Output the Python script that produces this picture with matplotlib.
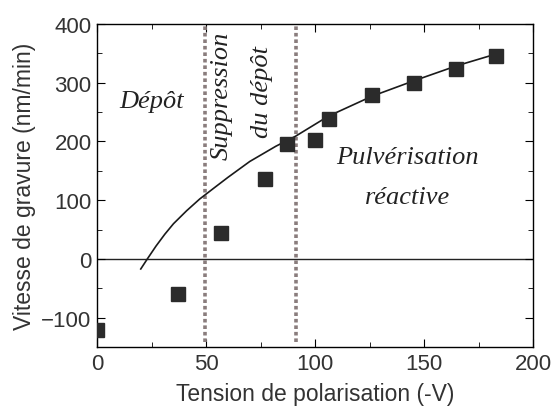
import matplotlib
matplotlib.use("Agg")
import matplotlib.pyplot as plt
from matplotlib.ticker import MultipleLocator

# measured points
tension = [0, 37, 57, 77, 87, 100, 106.5, 126, 145.5, 164.5, 183]
vitesse = [-121, -60, 44, 137, 196, 203, 238, 279, 300, 323, 346]

# fitted curve
fit_x = [20, 23, 27, 31, 35, 41, 47, 54, 60, 70, 82, 91, 106, 126, 145, 165, 183]
fit_y = [-17, 0, 22, 42, 60, 82, 102, 122, 139, 166, 192, 209, 243, 277, 303, 329, 349]

# region limits
limites = [49.5, 91]

plt.rcParams['font.family'] = ['Liberation Sans', 'DejaVu Sans']
fig = plt.figure(figsize=(5.52, 4.10), dpi=100)
ax = fig.add_axes([0.176, 0.151, 0.79, 0.788])

ax.axhline(0, color='#222222', lw=1.0, zorder=1)
for xl in limites:
    ax.plot([xl, xl], [-142, 400], color='#8a7d7d', lw=2.6, ls=(0, (1, 0.8)), zorder=2)
ax.plot(fit_x, fit_y, color='#1a1a1a', lw=1.2, zorder=3)
ax.plot(tension, vitesse, 's', color='#2b2b2b', ms=9.5, zorder=4)

ax.set_xlim(0, 200)
ax.set_ylim(-150, 400)
ax.xaxis.set_major_locator(MultipleLocator(50))
ax.xaxis.set_minor_locator(MultipleLocator(25))
ax.yaxis.set_major_locator(MultipleLocator(100))
ax.yaxis.set_minor_locator(MultipleLocator(50))
ax.tick_params(which='both', direction='in', top=True, right=True, labelsize=16,
               labelcolor='#333333', pad=4)
ax.tick_params(which='major', length=6)
ax.tick_params(which='minor', length=3.5)
for s in ax.spines.values():
    s.set_linewidth(1.0)

ax.set_xlabel("Tension de polarisation (-V)", fontsize=16.5, color='#333333', labelpad=6)
ax.set_ylabel("Vitesse de gravure (nm/min)", fontsize=16.5, color='#333333', labelpad=4)

serif = dict(family=['Liberation Serif', 'DejaVu Serif'], style='italic', fontsize=19, color='#222222')
ax.text(25, 269, "Dépôt", ha='center', va='center', **serif)
ax.text(57, 279, "Suppression", ha='center', va='center', rotation=90, **serif)
ax.text(75.5, 286, "du dépôt", ha='center', va='center', rotation=90, **serif)
ax.text(142.5, 174, "Pulvérisation", ha='center', va='center', **serif)
ax.text(142.5, 106, "réactive", ha='center', va='center', **serif)

fig.savefig("out.png", dpi=100)
